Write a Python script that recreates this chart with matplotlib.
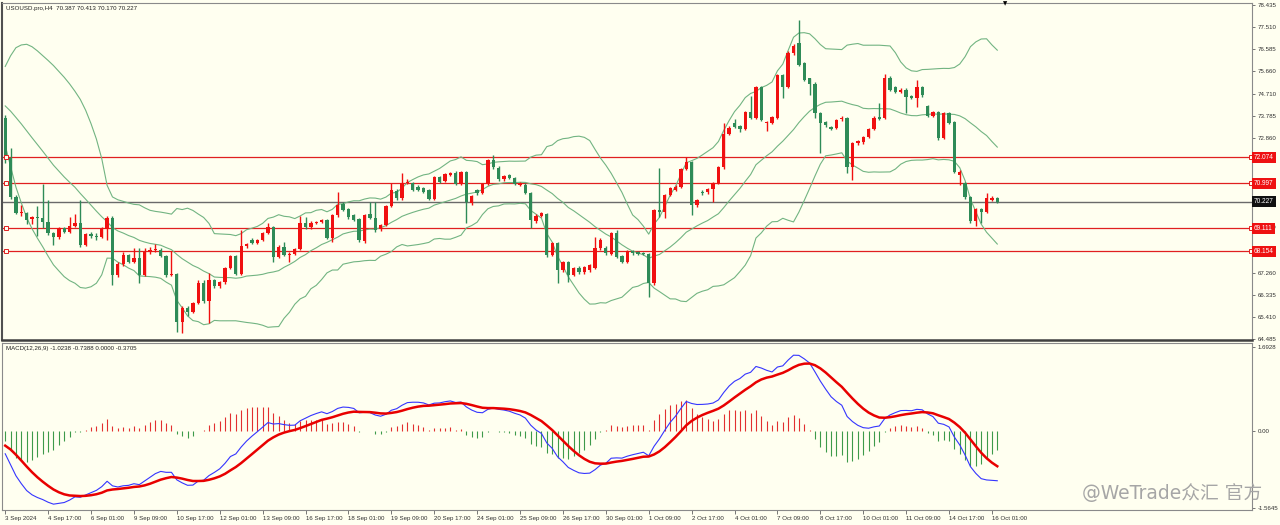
import numpy as np
import pandas as pd
import matplotlib
matplotlib.use("Agg")
import matplotlib.pyplot as plt
import matplotlib.transforms as mtransforms

# closes of the bars before the visible window (late Aug), only used to seed the indicators
warmup_closes = [74.0, 73.8, 73.5, 73.3, 73.4, 73.2,
                 72.8, 72.5, 72.4, 71.9, 71.8, 71.9,
                 72.0, 72.3, 72.6, 73.0, 73.1, 73.0,
                 73.2, 73.5, 73.9, 74.5, 74.8, 74.9,
                 75.3, 75.8, 76.2, 77.0, 77.3, 77.1,
                 76.8, 76.2, 75.8, 75.5, 75.2, 75.3,
                 75.1, 74.8, 74.5, 74.7, 74.9, 74.8,
                 75.0, 75.2, 75.3, 75.3, 75.2, 75.0,
                 74.8, 74.5, 74.1, 73.8, 73.6, 73.5,
                 73.6, 73.7, 73.8, 73.7, 73.75, 73.72]

opens = [73.72, 72.05, 70.42, 69.75, 69.76, 69.50, 69.58, 69.55, 69.37, 68.91,
         68.74, 69.12, 68.95, 69.20, 69.33, 68.41, 68.87, 68.80, 68.76, 69.07,
         69.54, 67.16, 67.62, 67.99, 67.70, 67.87, 67.16, 68.12, 68.20, 68.22,
         67.95, 67.16, 67.22, 65.19, 65.78, 65.61, 65.99, 66.82, 66.07, 66.95,
         66.70, 66.86, 67.45, 67.95, 67.20, 68.37, 68.60, 68.49, 68.62, 68.91,
         69.16, 67.91, 68.33, 67.99, 68.05, 68.24, 69.33, 69.16, 69.33, 69.37,
         69.45, 68.70, 69.66, 70.12, 69.91, 69.66, 69.50, 68.58, 69.70, 69.54,
         69.08, 69.25, 70.04, 70.66, 70.37, 71.00, 71.00, 70.83, 70.79, 70.71,
         70.33, 71.25, 71.08, 71.33, 71.42, 70.96, 71.46, 70.17, 70.71, 70.58,
         70.96, 71.96, 71.63, 71.17, 71.33, 71.21, 70.92, 70.92, 70.58, 69.41,
         69.62, 69.70, 67.99, 68.49, 67.37, 67.70, 67.16, 67.45, 67.28, 67.37,
         67.45, 68.28, 68.28, 68.03, 68.91, 67.95, 67.70, 68.16, 68.12, 68.07,
         68.03, 66.82, 69.87, 69.80, 70.50, 70.71, 70.83, 71.58, 71.88, 70.08,
         70.62, 70.62, 70.75, 71.00, 71.67, 73.05, 73.51, 73.38, 73.25, 73.97,
         73.72, 75.01, 73.51, 73.51, 73.72, 75.51, 75.01, 76.43, 76.85, 76.01,
         75.39, 75.14, 73.92, 73.55, 73.34, 73.30, 73.67, 73.72, 71.67, 72.67,
         72.71, 72.92, 73.25, 73.76, 73.72, 75.39, 75.01, 74.80, 74.89, 74.63,
         74.55, 75.01, 74.22, 73.80, 73.97, 72.88, 73.92, 73.55, 71.34, 71.00,
         70.42, 69.41, 69.91, 69.79, 70.29, 70.387]

highs = [73.85, 72.46, 70.50, 70.08, 69.79, 69.62, 70.04, 70.96, 70.29, 68.95,
         69.15, 69.18, 69.58, 69.70, 70.29, 68.92, 68.95, 68.90, 69.16, 69.62,
         69.62, 67.70, 68.12, 68.05, 68.28, 68.28, 68.28, 68.33, 68.45, 68.28,
         68.00, 68.16, 67.25, 65.85, 65.85, 66.05, 66.95, 66.95, 67.24, 67.00,
         66.90, 67.50, 68.00, 68.00, 69.04, 68.50, 68.70, 68.68, 68.95, 69.33,
         69.20, 68.40, 68.53, 68.10, 68.30, 69.62, 69.58, 69.40, 69.42, 69.50,
         69.50, 69.70, 70.62, 70.20, 69.95, 69.70, 69.55, 69.70, 70.21, 70.21,
         69.30, 70.10, 71.00, 70.75, 71.42, 71.15, 71.05, 70.90, 70.85, 70.75,
         71.30, 71.30, 71.42, 71.45, 71.50, 71.50, 71.50, 70.50, 70.75, 71.00,
         72.00, 72.17, 71.70, 71.35, 71.38, 71.25, 71.05, 71.00, 70.62, 69.70,
         69.80, 69.75, 68.55, 68.55, 67.75, 67.75, 67.50, 67.55, 67.55, 67.62,
         68.74, 68.70, 68.35, 68.95, 69.04, 67.98, 68.20, 68.20, 68.16, 68.10,
         68.08, 69.90, 71.63, 70.55, 70.85, 70.90, 71.62, 72.09, 71.92, 70.35,
         70.70, 70.80, 71.05, 71.70, 73.51, 73.40, 73.67, 73.42, 74.00, 74.63,
         75.05, 75.05, 73.60, 73.80, 75.55, 75.55, 76.50, 76.80, 77.81, 76.05,
         75.40, 75.20, 73.95, 73.60, 73.40, 73.68, 73.78, 73.76, 72.72, 72.80,
         72.97, 73.30, 73.78, 74.34, 75.55, 75.45, 75.05, 74.95, 74.95, 74.68,
         75.30, 75.05, 74.28, 74.02, 74.00, 73.97, 73.97, 73.60, 71.54, 71.05,
         70.46, 69.95, 69.95, 70.58, 70.45, 70.413]

lows = [71.85, 70.33, 69.70, 69.62, 69.29, 69.29, 68.79, 69.12, 68.83, 68.41,
        68.66, 68.90, 68.90, 69.15, 68.33, 68.37, 68.70, 68.62, 68.70, 68.62,
        66.74, 67.07, 67.55, 67.65, 67.65, 66.82, 67.10, 68.05, 68.12, 67.90,
        67.07, 67.10, 64.78, 64.73, 65.44, 65.55, 65.95, 66.00, 65.15, 66.60,
        66.60, 66.80, 67.40, 67.15, 67.15, 68.30, 68.45, 68.45, 68.58, 68.88,
        67.70, 67.85, 67.95, 67.70, 68.00, 68.20, 69.10, 69.10, 69.30, 69.32,
        68.65, 68.54, 69.60, 69.82, 69.50, 69.40, 68.55, 68.50, 69.50, 68.95,
        69.00, 69.20, 70.00, 70.30, 70.30, 70.95, 70.65, 70.65, 70.58, 70.28,
        70.28, 71.00, 71.03, 71.30, 70.90, 70.90, 69.33, 70.10, 70.50, 70.55,
        70.90, 71.60, 71.10, 71.10, 71.15, 70.90, 70.88, 70.55, 69.12, 69.35,
        69.58, 67.90, 67.95, 66.82, 67.30, 66.87, 67.10, 67.20, 67.20, 67.30,
        67.40, 68.20, 68.00, 67.98, 67.85, 67.65, 67.65, 68.00, 67.98, 67.98,
        66.24, 66.75, 69.58, 69.54, 70.45, 70.65, 70.80, 71.55, 69.66, 70.00,
        70.50, 70.55, 70.21, 70.95, 71.60, 73.00, 73.30, 73.15, 73.20, 73.68,
        73.68, 73.60, 73.17, 73.45, 73.68, 74.55, 74.97, 76.35, 75.90, 75.25,
        74.68, 73.72, 72.25, 73.35, 73.20, 73.25, 73.60, 71.42, 71.13, 72.60,
        72.65, 72.88, 73.20, 73.62, 73.68, 74.85, 74.75, 74.75, 73.92, 74.50,
        74.18, 74.60, 73.75, 73.75, 72.80, 72.82, 73.45, 71.40, 70.92, 70.35,
        69.35, 69.20, 69.33, 69.75, 70.25, 70.170]

closes = [72.05, 70.42, 69.75, 69.80, 69.45, 69.58, 69.55, 69.37, 68.91, 68.74,
          69.12, 68.95, 69.20, 69.33, 68.41, 68.87, 68.80, 68.76, 69.07, 69.54,
          67.16, 67.62, 67.99, 67.70, 67.87, 67.16, 68.12, 68.20, 68.22, 67.95,
          67.16, 67.22, 65.19, 65.78, 65.61, 65.99, 66.82, 66.07, 66.95, 66.70,
          66.86, 67.45, 67.95, 67.20, 68.37, 68.45, 68.49, 68.62, 68.91, 69.16,
          67.91, 68.33, 67.99, 68.05, 68.24, 69.33, 69.16, 69.33, 69.37, 69.45,
          68.70, 69.66, 70.08, 69.87, 69.58, 69.45, 68.62, 69.66, 69.54, 69.04,
          69.25, 70.04, 70.71, 70.37, 71.00, 71.05, 70.71, 70.71, 70.62, 70.33,
          71.25, 71.04, 71.38, 71.42, 70.96, 71.46, 70.21, 70.46, 70.58, 70.96,
          71.96, 71.67, 71.17, 71.29, 71.21, 70.96, 71.00, 70.58, 69.45, 69.62,
          69.75, 67.99, 68.49, 67.37, 67.70, 67.16, 67.45, 67.28, 67.49, 67.58,
          68.28, 68.62, 68.07, 68.91, 67.91, 67.70, 68.16, 68.07, 68.03, 68.03,
          66.82, 69.87, 69.80, 70.50, 70.79, 70.83, 71.58, 71.88, 70.08, 70.29,
          70.60, 70.75, 71.00, 71.67, 73.05, 73.30, 73.34, 73.25, 73.97, 73.72,
          75.01, 73.63, 73.55, 73.76, 75.51, 75.01, 76.43, 76.72, 75.93, 75.30,
          75.14, 73.92, 73.51, 73.42, 73.25, 73.63, 73.72, 71.67, 72.67, 72.75,
          72.92, 73.25, 73.72, 73.67, 75.39, 74.89, 74.80, 74.89, 74.59, 74.55,
          75.01, 74.68, 73.80, 73.97, 72.88, 73.92, 73.51, 71.46, 71.46, 70.42,
          69.41, 69.91, 69.79, 70.37, 70.37, 70.227]

x_labels = ['3 Sep 2024', '4 Sep 17:00', '6 Sep 01:00', '9 Sep 09:00', '10 Sep 17:00',
            '12 Sep 01:00', '13 Sep 09:00', '16 Sep 17:00', '18 Sep 01:00', '19 Sep 09:00',
            '20 Sep 17:00', '24 Sep 01:00', '25 Sep 09:00', '26 Sep 17:00', '30 Sep 01:00',
            '1 Oct 09:00', '2 Oct 17:00', '4 Oct 01:00', '7 Oct 09:00', '8 Oct 17:00',
            '10 Oct 01:00', '11 Oct 09:00', '14 Oct 17:00', '16 Oct 01:00']
price_ticks = [78.435, 77.510, 76.585, 75.660, 74.710, 73.785, 72.860, 71.935,
               71.010, 70.085, 69.160, 68.235, 67.260, 66.335, 65.410, 64.485]
level_lines = [72.074, 70.997, 69.111, 68.154]
macd_ticks = [1.6928, 0.0, -1.5645]
macd_tick_labels = ['1.6928', '0.00', '-1.5645']
macd_readout = [-1.0238, -0.7388, 0.0000, -0.3705]
HIST_SCALE = 1.3   # the terminal's histogram runs ~1.3x the DIF-DEA gap (-0.3705 vs -0.285)

BG = '#fffff0'
UP = '#f01010'
DOWN = '#2e8b57'
BAND = '#72b482'
LEVEL = '#e02020'
FONT = 'Liberation Sans'
FS = 4.4

# indicators: Bollinger(20, 2) and MACD(12, 26, 9)
s = pd.Series(warmup_closes + closes, dtype=float)
n0 = len(warmup_closes)
mid = s.rolling(20).mean()
sd = s.rolling(20).std(ddof=0)
bb_up = (mid + 2 * sd).values[n0:]
bb_lo = (mid - 2 * sd).values[n0:]
bb_mid = mid.values[n0:]
dif = (s.ewm(span=12, adjust=False).mean() - s.ewm(span=26, adjust=False).mean())
dea = dif.ewm(span=9, adjust=False).mean()
hist = HIST_SCALE * (dif - dea).values[n0:]
dif = dif.values[n0:]
dea = dea.values[n0:]

o, h, l, c = (np.array(v) for v in (opens, highs, lows, closes))
x = np.arange(len(c))
col = np.where(c >= o, UP, DOWN)

fig = plt.figure(figsize=(12.8, 5.25), dpi=100, facecolor=BG)
W, H = 1280.0, 525.0
ax = fig.add_axes([2 / W, 1 - 340 / H, 1250 / W, 337 / H], facecolor=BG)
axm = fig.add_axes([2 / W, 1 - 510 / H, 1250 / W, 167 / H], facecolor=BG, sharex=ax)

# candles
ax.vlines(x, l, h, colors=col, lw=1.0, zorder=3)
body_lo = np.minimum(o, c)
body_h = np.maximum(np.abs(c - o), 0.035)
ax.bar(x, body_h, bottom=body_lo, width=0.62, color=col, lw=0, zorder=4)

# bands
for b in (bb_up, bb_mid, bb_lo):
    ax.plot(x, b, color=BAND, lw=0.8, zorder=2)

# horizontal levels with their price boxes on the scale
blend = mtransforms.blended_transform_factory(ax.transAxes, ax.transData)
box_kw = dict(boxstyle='square,pad=0.32', ec='none')
for lv in level_lines:
    ax.axhline(lv, color=LEVEL, lw=0.9, zorder=1)
    ax.plot([0.003, 0.999], [lv, lv], ls='none', marker='s', ms=2.6, mfc=BG,
            mec=LEVEL, mew=0.7, transform=blend, zorder=5, clip_on=False)
    ax.text(1.0016, lv, f'{lv:.3f}', transform=blend, ha='left', va='center',
            fontsize=4.7, family=FONT, color='white', zorder=10, clip_on=False,
            bbox=dict(fc='#ee1111', **box_kw))
ax.axhline(closes[-1], color='#6a6a6a', lw=1.0, zorder=1)
ax.text(1.0016, closes[-1], f'{closes[-1]:.3f}', transform=blend, ha='left', va='center',
        fontsize=4.7, family=FONT, color='white', zorder=10, clip_on=False,
        bbox=dict(fc='#101010', **box_kw))

ax.set_xlim(-0.6, 232.5)
ax.set_ylim(64.443, 78.52)
ax.yaxis.tick_right()
ax.set_yticks(price_ticks)
ax.set_yticklabels([f'{t:.3f}' for t in price_ticks], fontsize=FS, family=FONT, color='#303030')
ax.tick_params(axis='y', length=2.5, width=0.6, color='#606060', pad=1.5)
ax.tick_params(axis='x', bottom=False, labelbottom=False)

ax.text(0.003, 0.992, f'USOUSD.pro,H4  {opens[-1]:.3f} {highs[-1]:.3f} {lows[-1]:.3f} {closes[-1]:.3f}',
        transform=ax.transAxes, ha='left', va='top', fontsize=FS, family=FONT, color='#202020')

# MACD panel
hcol = np.where(hist >= 0, '#e23030', '#3d9a4a')
axm.vlines(x, 0, hist, colors=hcol, lw=0.8, zorder=2)
axm.plot(x, dif, color='#3535ff', lw=0.8, zorder=3)
axm.plot(x, dea, color='#e80000', lw=1.8, zorder=4)
axm.set_ylim(-1.605, 1.774)
axm.yaxis.tick_right()
axm.set_yticks(macd_ticks)
axm.set_yticklabels(macd_tick_labels, fontsize=FS, family=FONT, color='#303030')
axm.tick_params(axis='y', length=2.5, width=0.6, color='#606060', pad=1.5)
ticks = list(range(0, 8 * len(x_labels), 8))
axm.set_xticks(ticks)
axm.set_xticklabels(x_labels, fontsize=FS, family=FONT, color='#303030', ha='left')
axm.tick_params(axis='x', length=3, width=0.6, color='#606060', pad=1.5)
axm.text(0.003, 0.985, 'MACD(12,26,9) ' + ' '.join(f'{v:.4f}' for v in macd_readout),
         transform=axm.transAxes, ha='left', va='top', fontsize=FS, family=FONT, color='#202020')

for a in (ax, axm):
    for side in ('top', 'right', 'left', 'bottom'):
        a.spines[side].set_color('#8a8a8a')
        a.spines[side].set_linewidth(0.8)
ax.spines['bottom'].set_color('#404040')
ax.spines['bottom'].set_linewidth(1.8)
ax.spines['left'].set_color('#505050')
ax.spines['left'].set_linewidth(1.5)

# chart shift marker and watermark
fig.text(1005 / W, 1 - 4 / H, '\u25bc', fontsize=4, ha='center', va='center', color='black')
fig.text(1082 / W, 1 - 494 / H, '@WeTrade众汇 官方', fontsize=13.5, ha='left', va='center',
         color='#a6a6a6', family=['DejaVu Sans', 'Noto Sans CJK SC'], zorder=20)

fig.savefig('out.png', dpi=100, facecolor=BG)
